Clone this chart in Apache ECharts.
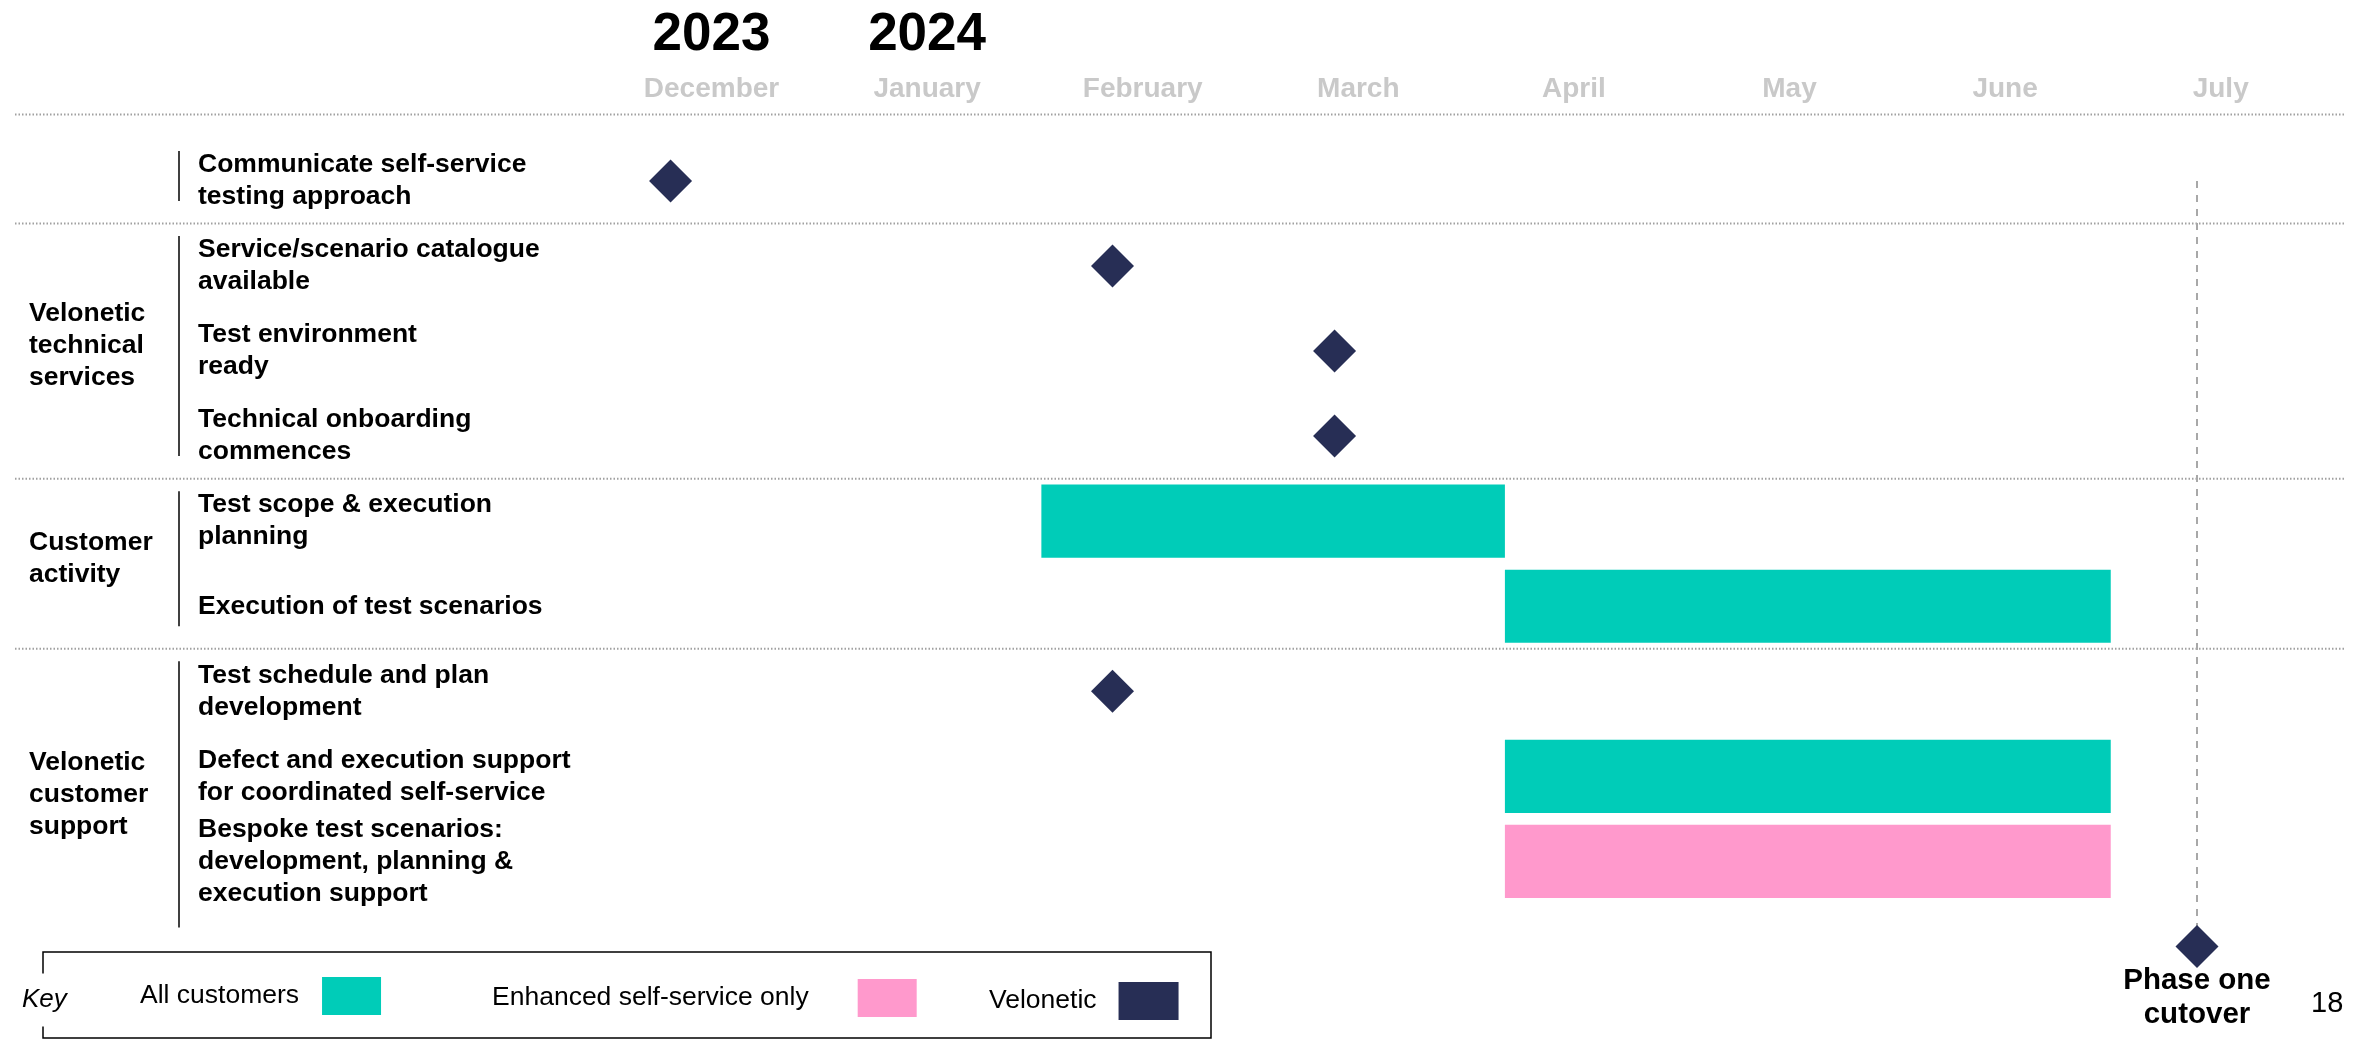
<!DOCTYPE html>
<html>
<head>
<meta charset="utf-8">
<script src="https://cdn.jsdelivr.net/npm/echarts@6/dist/echarts.min.js"></script>
<style>
html,body{margin:0;padding:0;background:#fff;}
#c{width:2358px;height:1039px;}
</style>
</head>
<body>
<div id="c"></div>
<script>
// ---- data (x in months: 0 = December 2023 label centre) ----
const months = ['December', 'January', 'February', 'March', 'April', 'May', 'June', 'July'];
const years = ['2023', '2024'];
const tasks = [
  'Communicate self-service\ntesting approach',
  'Service/scenario catalogue\navailable',
  'Test environment\nready',
  'Technical onboarding\ncommences',
  'Test scope & execution\nplanning',
  'Execution of test scenarios',
  'Test schedule and plan\ndevelopment',
  'Defect and execution support\nfor coordinated self-service',
  'Bespoke test scenarios:\ndevelopment, planning &\nexecution support',
  ''
];
const groupNames = ['', 'Velonetic\ntechnical\nservices', 'Customer\nactivity', 'Velonetic\ncustomer\nsupport'];
const groupFirst = [0, 1, 4, 6];
const groupLast = [0, 3, 5, 8];

const allCustomersTask = [4, 5, 7];
const allCustomersStart = [1.53, 3.68, 3.68];
const allCustomersEnd = [3.68, 6.49, 6.49];

const enhancedTask = [8];
const enhancedStart = [3.68];
const enhancedEnd = [6.49];

const milestoneTask = [0, 1, 2, 3, 6, 9];
const milestoneAt = [-0.19, 1.86, 2.89, 2.89, 1.86, 6.89];
const milestoneLabel = ['', '', '', '', '', 'Phase one\ncutover'];

const cutoverAt = 6.89;
const pageNumber = '18';
const keyLabel = 'Key';
const seriesNames = ['All customers', 'Enhanced self-service only', 'Velonetic'];

// ---- styles ----
const FONT = "'Liberation Sans', Arial, Helvetica, sans-serif";
const TEAL = '#00CCB8';
const PINK = '#FF99CC';
const NAVY = '#272E55';

const chart = echarts.init(document.getElementById('c'), null, {renderer: 'canvas'});

function renderBar(params, api) {
  const y = api.value(0);
  const s = api.coord([api.value(1), y]);
  const e = api.coord([api.value(2), y]);
  const h = api.size([0, 1])[1] * 0.86;
  return {
    type: 'rect',
    shape: {x: s[0], y: s[1] - h / 2, width: e[0] - s[0], height: h},
    style: api.style()
  };
}

const gridLeft = 495.9, gridRight = 29.5, gridTop = 138.4, gridBottom = 50;

function legendCfg(name, left, top, gap, iw) {
  return {
    data: [name], left: left, top: top, align: 'right', orient: 'horizontal',
    padding: 0, icon: 'rect', itemWidth: iw, itemHeight: 38,
    selectedMode: false,
    itemStyle: {opacity: 1},
    textStyle: {fontFamily: FONT, fontSize: 26.5, color: '#000', padding: [6, gap, 0, 0]}
  };
}

const option = {
  animation: false,
  backgroundColor: '#fff',
  textStyle: {fontFamily: FONT},
  grid: {left: gridLeft, right: gridRight, top: gridTop, bottom: gridBottom, containLabel: false},
  xAxis: [{
    type: 'value', position: 'top', min: -1, max: 7.5, interval: 1,
    axisLine: {show: false}, axisTick: {show: false}, splitLine: {show: false},
    axisLabel: {
      show: true, margin: 49, verticalAlign: 'middle',
      fontFamily: FONT, fontSize: 28, fontWeight: 'bold', color: '#c9c9c9',
      formatter: v => (Number.isInteger(v) && months[v] !== undefined) ? months[v] : ''
    }
  }, {
    type: 'value', position: 'top', min: -1, max: 7.5, interval: 1,
    axisLine: {show: false}, axisTick: {show: false}, splitLine: {show: false},
    axisLabel: {
      show: true, margin: 103, verticalAlign: 'middle',
      fontFamily: FONT, fontSize: 53, fontWeight: 'bold', color: '#000',
      formatter: v => (Number.isInteger(v) && years[v] !== undefined) ? years[v] : ''
    }
  }],
  yAxis: {
    type: 'category', inverse: true, data: tasks,
    axisLine: {show: false}, axisTick: {show: false}, splitLine: {show: false},
    axisLabel: {
      align: 'left', margin: gridLeft - 198, interval: 0,
      fontFamily: FONT, fontSize: 26.5, fontWeight: 'bold', color: '#000', lineHeight: 32
    }
  },
  legend: [
    legendCfg(seriesNames[0], 140, 977, 18, 59),
    legendCfg(seriesNames[1], 492, 979, 44, 59),
    legendCfg(seriesNames[2], 989, 982, 17, 60)
  ],
  series: [
    {
      type: 'line', name: 'cutover', data: [], z: 1, silent: true,
      markLine: {
        silent: true, symbol: 'none', label: {show: false},
        lineStyle: {color: '#a8a8a8', width: 2, type: [7, 7]},
        data: [[{coord: [cutoverAt, 0]}, {coord: [cutoverAt, 9]}]]
      }
    },
    {
      type: 'custom', name: seriesNames[0], z: 2,
      itemStyle: {color: TEAL},
      renderItem: renderBar,
      encode: {x: [1, 2], y: 0},
      data: allCustomersTask.map((t, k) => [t, allCustomersStart[k], allCustomersEnd[k]])
    },
    {
      type: 'custom', name: seriesNames[1], z: 2,
      itemStyle: {color: PINK},
      renderItem: renderBar,
      encode: {x: [1, 2], y: 0},
      data: enhancedTask.map((t, k) => [t, enhancedStart[k], enhancedEnd[k]])
    },
    {
      type: 'scatter', name: seriesNames[2], z: 5,
      symbol: 'diamond', symbolSize: 43,
      itemStyle: {color: NAVY, opacity: 1},
      data: milestoneAt.map((x, k) => ({
        value: [x, milestoneTask[k]],
        label: milestoneLabel[k] ? {
          show: true, formatter: milestoneLabel[k], position: 'bottom', distance: -4,
          fontFamily: FONT, fontSize: 29.5, fontWeight: 'bold', color: '#000', lineHeight: 34
        } : {show: false}
      }))
    }
  ]
};

chart.setOption(option);

// ---- decorations derived from the axes ----
const rowY = i => chart.convertToPixel({yAxisIndex: 0}, i);
const lineCount = i => Math.max(1, tasks[i].split('\n').length);
const graphics = [];
const dotted = (y, x1, x2) => ({
  type: 'line', silent: true, z: 0,
  shape: {x1: x1, y1: y, x2: x2, y2: y},
  style: {stroke: '#a0a0a0', lineWidth: 2, lineDash: [1.5, 2]}
});
graphics.push(dotted(gridTop - 24, 15, 2345));
for (let g = 0; g < groupNames.length; g++) {
  const yTop = rowY(groupFirst[g]) - 30;
  const yBot = rowY(groupLast[g]) + 20 + 46 * Math.max(0, lineCount(groupLast[g]) - 2);
  graphics.push({
    type: 'line', silent: true,
    shape: {x1: 179, y1: yTop, x2: 179, y2: yBot},
    style: {stroke: '#000', lineWidth: 1.5}
  });
  if (groupNames[g]) {
    graphics.push({
      type: 'text', silent: true, x: 29, y: (yTop + yBot) / 2,
      style: {text: groupNames[g], fontFamily: FONT, fontSize: 26.5, fontWeight: 'bold',
              fill: '#000', lineHeight: 32, verticalAlign: 'middle', align: 'left'}
    });
  }
  if (g < groupNames.length - 1) {
    const ys = (rowY(groupLast[g]) + rowY(groupFirst[g + 1])) / 2;
    graphics.push(dotted(ys, 15, 2345));
  }
}
// key box
graphics.push({
  type: 'rect', silent: true, z: 0,
  shape: {x: 43, y: 952, width: 1168, height: 86},
  style: {fill: 'none', stroke: '#000', lineWidth: 1.5}
});
graphics.push({
  type: 'text', silent: true, z: 10, x: 22, y: 1000,
  style: {text: keyLabel, fontFamily: FONT, fontSize: 26, fontStyle: 'italic', fill: '#000',
          verticalAlign: 'middle', align: 'left', backgroundColor: '#fff', padding: [17, 0, 10, 0]}
});
graphics.push({
  type: 'text', silent: true, x: 2311, y: 1004,
  style: {text: pageNumber, fontFamily: FONT, fontSize: 29, fill: '#000',
          verticalAlign: 'middle', align: 'left'}
});
chart.setOption({graphic: graphics});
</script>
</body>
</html>
